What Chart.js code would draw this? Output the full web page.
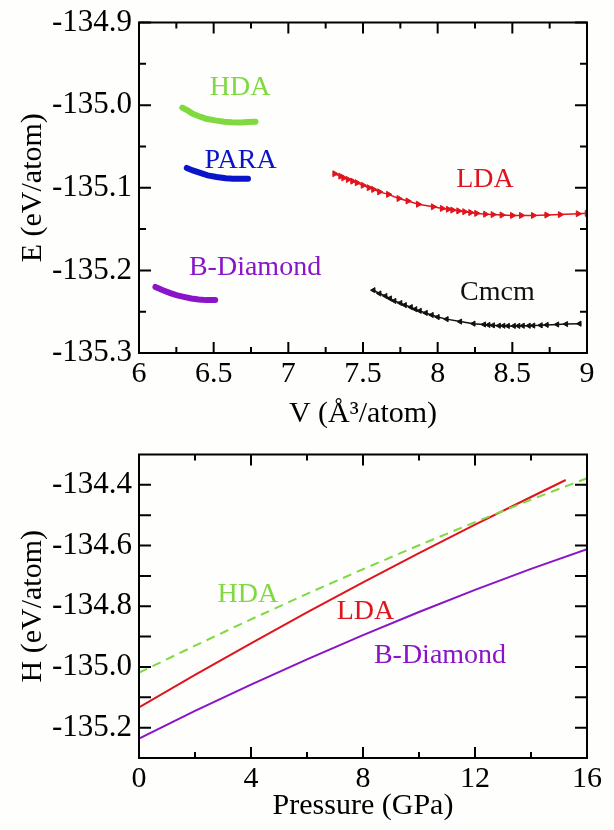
<!DOCTYPE html>
<html>
<head>
<meta charset="utf-8">
<script src="https://cdn.jsdelivr.net/npm/chart.js@4/dist/chart.umd.min.js"></script>
<style>
  body { margin: 0; background: #fefefc; }
  canvas { position: absolute; left: 0; }
  #top { top: 0; }
  #bot { top: 432px; }
</style>
</head>
<body>
<canvas id="top" width="614" height="432"></canvas>
<canvas id="bot" width="614" height="398"></canvas>
<script>
// ---- top panel: E(V) ----
const hdaV = [6.29, 6.33, 6.36, 6.41, 6.45, 6.51, 6.57, 6.62, 6.68, 6.73, 6.78];
const hdaE = [-135.003, -135.007, -135.0105, -135.014, -135.0165, -135.0185, -135.020, -135.0207, -135.021, -135.0205, -135.020];

const paraV = [6.32, 6.36, 6.41, 6.46, 6.52, 6.58, 6.63, 6.69, 6.73];
const paraE = [-135.076, -135.079, -135.082, -135.085, -135.087, -135.0885, -135.089, -135.089, -135.089];

const bdV = [6.11, 6.16, 6.21, 6.25, 6.30, 6.35, 6.40, 6.45, 6.51];
const bdE = [-135.220, -135.224, -135.2275, -135.230, -135.232, -135.234, -135.2353, -135.236, -135.236];

const ldaV = [7.31, 7.35, 7.37, 7.40, 7.43, 7.46, 7.50, 7.54, 7.57, 7.61, 7.67, 7.74, 7.80, 7.87, 7.97, 8.03,
  8.07, 8.10, 8.14, 8.18, 8.22, 8.26, 8.32, 8.37, 8.43, 8.50, 8.56, 8.64, 8.73, 8.82, 8.94, 9.0];
const ldaE = [-135.083, -135.086, -135.088, -135.090, -135.092, -135.094, -135.097, -135.100, -135.102, -135.105,
  -135.108, -135.113, -135.116, -135.120, -135.123, -135.125, -135.126, -135.127, -135.128, -135.129, -135.130,
  -135.131, -135.132, -135.1325, -135.133, -135.1335, -135.1335, -135.1335, -135.133, -135.1325, -135.1315, -135.131];

const cmcmV = [7.57, 7.61, 7.65, 7.68, 7.71, 7.75, 7.78, 7.82, 7.85, 7.88, 7.92, 7.96, 8.00, 8.06, 8.15, 8.24,
  8.31, 8.34, 8.37, 8.41, 8.44, 8.47, 8.51, 8.54, 8.57, 8.61, 8.64, 8.69, 8.73, 8.80, 8.86, 8.95];
const cmcmE = [-135.224, -135.228, -135.231, -135.234, -135.237, -135.2395, -135.242, -135.2445, -135.247, -135.249,
  -135.2515, -135.254, -135.2565, -135.259, -135.262, -135.2645, -135.2655, -135.266, -135.2665, -135.267, -135.267,
  -135.2672, -135.2672, -135.2672, -135.267, -135.267, -135.2668, -135.2665, -135.266, -135.2655, -135.265, -135.2645];

const topXTicks = [6, 6.5, 7, 7.5, 8, 8.5, 9];
const topXMinor = [6.25, 6.75, 7.25, 7.75, 8.25, 8.75];
const topYTicks = [-135.3, -135.2, -135.1, -135.0, -134.9];
const topYMinor = [-135.25, -135.15, -135.05, -134.95];

// ---- bottom panel: H(P) ----
const hdaP = [0, 2, 4, 6, 8, 10, 12, 14, 16];
const hdaH = [-135.019, -134.930, -134.843, -134.759, -134.678, -134.599, -134.523, -134.449, -134.378];
const ldaP = [0, 2, 4, 6, 8, 10, 12, 14, 15.24];
const ldaH = [-135.133, -135.026, -134.922, -134.820, -134.721, -134.625, -134.531, -134.440, -134.384];
const bdP = [0, 2, 4, 6, 8, 10, 12, 14, 16];
const bdH = [-135.236, -135.145, -135.058, -134.975, -134.895, -134.819, -134.746, -134.677, -134.612];

const botXTicks = [0, 4, 8, 12, 16];
const botXMinor = [2, 6, 10, 14];
const botYTicks = [-135.2, -135.0, -134.8, -134.6, -134.4];
const botYMinor = [-135.1, -134.9, -134.7, -134.5];

const GREEN = '#7fd93f', BLUE = '#0a14c8', RED = '#e0141e', PURPLE = '#8a14c8', BLACK = '#111';
const SERIF = '"Liberation Serif", "Times New Roman", serif';

const pts = (xs, ys) => xs.map((x, i) => ({ x, y: ys[i] }));

// frame with inward ticks on all four sides, plus text labels in data coords
const framePlugin = {
  id: 'frame',
  afterDraw(chart, args, o) {
    const { ctx, chartArea: a, scales: { x, y } } = chart;
    ctx.save();
    ctx.strokeStyle = '#000';
    ctx.lineWidth = 2;
    ctx.beginPath();
    const xt = (vals, len) => vals.forEach(v => {
      const p = x.getPixelForValue(v);
      ctx.moveTo(p, a.bottom); ctx.lineTo(p, a.bottom - len);
      ctx.moveTo(p, a.top); ctx.lineTo(p, a.top + len);
    });
    const yt = (vals, len) => vals.forEach(v => {
      const p = y.getPixelForValue(v);
      ctx.moveTo(a.left, p); ctx.lineTo(a.left + len, p);
      ctx.moveTo(a.right, p); ctx.lineTo(a.right - len, p);
    });
    xt(o.xMajor, 11); xt(o.xMinor, 6);
    yt(o.yMajor, 12); yt(o.yMinor, o.yMinorLen);
    ctx.stroke();
    ctx.strokeRect(a.left, a.top, a.right - a.left, a.bottom - a.top);
    ctx.font = '28px ' + SERIF;
    ctx.textAlign = 'center';
    ctx.textBaseline = 'middle';
    o.labels.forEach(l => {
      ctx.fillStyle = l.color;
      ctx.fillText(l.text, x.getPixelForValue(l.x), y.getPixelForValue(l.y));
    });
    ctx.restore();
  }
};

function axes(xr, yr, xTitle, yTitle, xHeight, xTitlePad) {
  const xTickFont = { family: SERIF, size: 30, lineHeight: 1 };
  const yTickFont = { family: SERIF, size: 31, lineHeight: 1 };
  const titleFont = { family: SERIF, size: 30, lineHeight: 1.2 };
  return {
    x: {
      type: 'linear', min: xr.min, max: xr.max,
      grid: { display: false, drawTicks: false }, border: { display: false },
      afterBuildTicks: s => { s.ticks = xr.ticks.map(v => ({ value: v })); },
      afterFit: s => { s.height = xHeight; },
      ticks: { color: '#000', font: xTickFont, padding: 6, maxRotation: 0, callback: v => String(v) },
      title: { display: true, text: xTitle, color: '#000', font: titleFont, padding: { top: 0, bottom: xTitlePad } }
    },
    y: {
      type: 'linear', min: yr.min, max: yr.max,
      grid: { display: false, drawTicks: false }, border: { display: false },
      afterBuildTicks: s => { s.ticks = yr.ticks.map(v => ({ value: v })); },
      afterFit: s => { s.width = 139; },
      ticks: { color: '#000', font: yTickFont, padding: 7, callback: v => v.toFixed(1) },
      title: { display: true, text: yTitle, color: '#000', font: titleFont, padding: { top: 15, bottom: 0 } }
    }
  };
}

Chart.defaults.animation = false;

new Chart(document.getElementById('top'), {
  type: 'scatter',
  data: {
    datasets: [
      { data: pts(hdaV, hdaE), showLine: true, borderColor: GREEN, borderWidth: 6, borderCapStyle: 'round', pointRadius: 0 },
      { data: pts(paraV, paraE), showLine: true, borderColor: BLUE, borderWidth: 6, borderCapStyle: 'round', pointRadius: 0 },
      { data: pts(bdV, bdE), showLine: true, borderColor: PURPLE, borderWidth: 6, borderCapStyle: 'round', pointRadius: 0 },
      { data: pts(ldaV, ldaE), showLine: true, borderColor: RED, backgroundColor: RED, borderWidth: 1.5,
        pointStyle: 'triangle', pointRotation: 90, pointRadius: 3.5, pointBorderWidth: 1 },
      { data: pts(cmcmV, cmcmE), showLine: true, borderColor: BLACK, backgroundColor: BLACK, borderWidth: 1.5,
        pointStyle: 'triangle', pointRotation: -90, pointRadius: 3, pointBorderWidth: 1 }
    ]
  },
  options: {
    responsive: false,
    layout: { padding: { top: 16, right: 27, left: 0, bottom: 0 } },
    scales: axes({ min: 6, max: 9, ticks: topXTicks }, { min: -135.3, max: -134.9, ticks: topYTicks },
      'V (Å³/atom)', 'E (eV/atom)', 79, 0),
    plugins: {
      legend: { display: false }, tooltip: { enabled: false },
      frame: {
        xMajor: topXTicks, xMinor: topXMinor, yMajor: topYTicks, yMinor: topYMinor, yMinorLen: 7,
        labels: [
          { text: 'HDA', x: 6.677, y: -134.979, color: GREEN },
          { text: 'PARA', x: 6.68, y: -135.067, color: BLUE },
          { text: 'LDA', x: 8.317, y: -135.0905, color: RED },
          { text: 'B-Diamond', x: 6.777, y: -135.197, color: PURPLE },
          { text: 'Cmcm', x: 8.40, y: -135.2266, color: BLACK }
        ]
      }
    }
  },
  plugins: [framePlugin]
});

new Chart(document.getElementById('bot'), {
  type: 'scatter',
  data: {
    datasets: [
      { data: pts(hdaP, hdaH), showLine: true, borderColor: GREEN, borderWidth: 2, borderDash: [9, 6], pointRadius: 0 },
      { data: pts(ldaP, ldaH), showLine: true, borderColor: RED, borderWidth: 2, pointRadius: 0 },
      { data: pts(bdP, bdH), showLine: true, borderColor: PURPLE, borderWidth: 2, pointRadius: 0 }
    ]
  },
  options: {
    responsive: false,
    layout: { padding: { top: 4, right: 27, left: 0, bottom: 0 } },
    scales: axes({ min: 0, max: 16, ticks: botXTicks }, { min: -135.3, max: -134.3, ticks: botYTicks },
      'Pressure (GPa)', 'H (eV/atom)', 72, 6),
    plugins: {
      legend: { display: false }, tooltip: { enabled: false },
      frame: {
        xMajor: botXTicks, xMinor: botXMinor, yMajor: botYTicks, yMinor: botYMinor, yMinorLen: 12,
        labels: [
          { text: 'HDA', x: 3.89, y: -134.763, color: GREEN },
          { text: 'LDA', x: 8.09, y: -134.819, color: RED },
          { text: 'B-Diamond', x: 10.75, y: -134.962, color: PURPLE }
        ]
      }
    }
  },
  plugins: [framePlugin]
});
</script>
</body>
</html>
